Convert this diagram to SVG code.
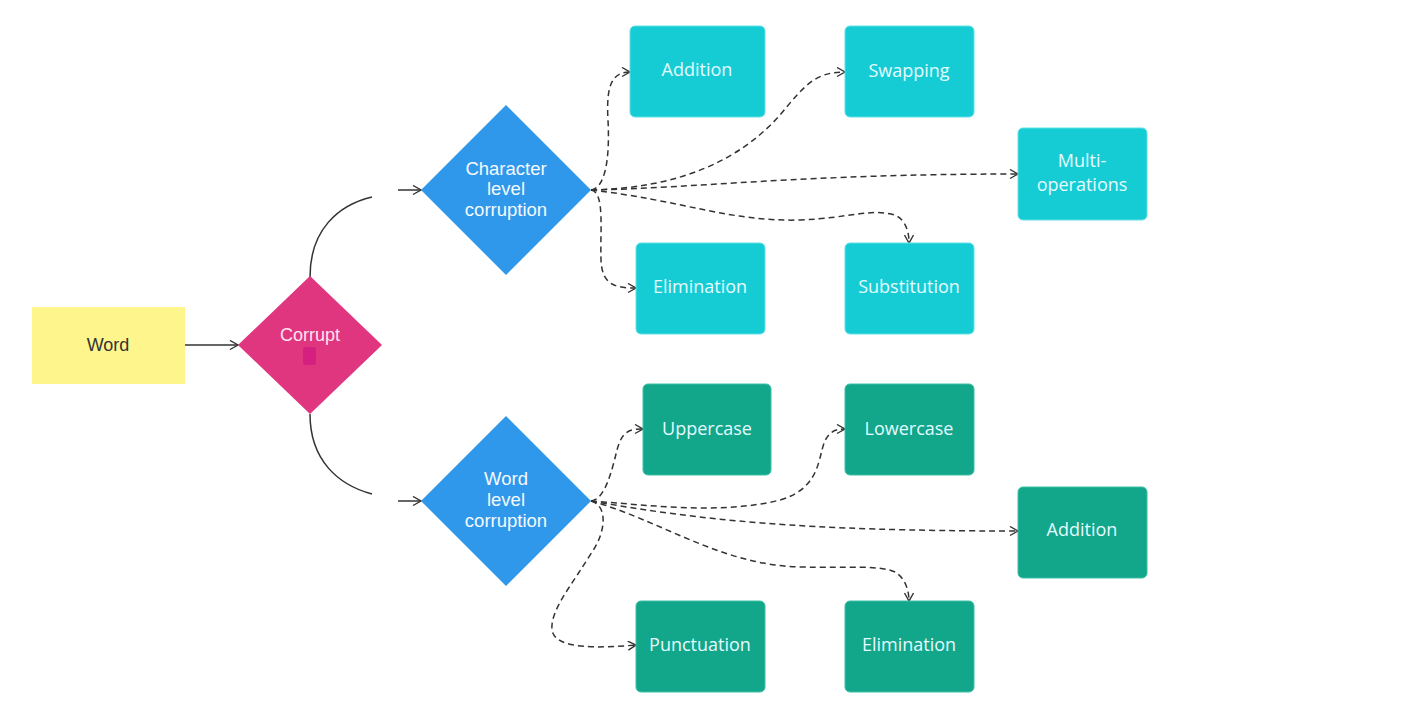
<svg xmlns="http://www.w3.org/2000/svg" width="1413" height="707" viewBox="0 0 1413 707">
<defs>
<marker id="arr" markerUnits="userSpaceOnUse" markerWidth="12" markerHeight="12" refX="9" refY="5" orient="auto">
<path d="M1,0.5 L9,5 L1,9.5" fill="none" stroke="#333" stroke-width="1.4"/>
</marker>
<style>
.solid{fill:none;stroke:#333;stroke-width:1.5}
.dash{fill:none;stroke:#333;stroke-width:1.5;stroke-dasharray:6 4}
.teal{fill:#16CCD4;stroke:#5FE0E6;stroke-width:1}
.green{fill:#12A68A;stroke:#3CC0A6;stroke-width:1}
.bt{font-family:"Open Sans","Noto Sans",sans-serif;font-size:18px;font-weight:500;fill:#E4FBFF;text-anchor:middle}
.dt{font-family:"Liberation Sans",Arial,sans-serif;font-size:18.5px;fill:#F5FAFF;text-anchor:middle}
</style>
</defs>
<rect width="1413" height="707" fill="#fff"/>
<g id="connectors">
<path class="solid" d="M185,345 L238,345" marker-end="url(#arr)"/>
<path class="solid" d="M310,277 C310,230 338,205 372,197"/>
<path class="solid" d="M398,190 L421,190" marker-end="url(#arr)"/>
<path class="solid" d="M310,414 C310,460 338,485 372,494"/>
<path class="solid" d="M398,501 L421,501" marker-end="url(#arr)"/>
<path class="dash" d="M591,190 C605,188 610,160 608,120 C606,85 612,72 630,72" marker-end="url(#arr)"/>
<path class="dash" d="M591,190 C605,192 600,230 601,260 C602,285 615,288 636,288" marker-end="url(#arr)"/>
<path class="dash" d="M591,190 C680,188 740,160 780,115 C805,85 815,72 845,72" marker-end="url(#arr)"/>
<path class="dash" d="M591,190 C700,188 800,174 1018,174" marker-end="url(#arr)"/>
<path class="dash" d="M591,190 C680,200 730,222 800,220 C850,218 870,208 895,215 C905,220 909,230 909,243" marker-end="url(#arr)"/>
<path class="dash" d="M591,501 C605,500 612,470 617,450 C622,432 628,429 643,429" marker-end="url(#arr)"/>
<path class="dash" d="M591,501 C650,505 720,515 780,500 C815,490 818,465 822,450 C826,434 832,429 845,429" marker-end="url(#arr)"/>
<path class="dash" d="M591,501 C700,520 800,531 1018,531" marker-end="url(#arr)"/>
<path class="dash" d="M591,501 C660,520 720,565 800,567 C850,568 880,565 895,572 C905,578 909,590 909,601" marker-end="url(#arr)"/>
<path class="dash" d="M591,501 C607,505 607,530 592,552 C572,585 550,610 552,630 C555,650 600,648 636,645" marker-end="url(#arr)"/>
</g>
<g id="word">
<rect x="32" y="307" width="153" height="77" fill="#FEF68D"/>
<text class="dt" x="108" y="351" style="fill:#333;font-size:18px">Word</text>
</g>
<g id="corrupt">
<polygon points="310,276 382,345 310,414 238,345" fill="#E0357F"/>
<text class="dt" x="310" y="341" style="fill:#FCE4F0;font-size:18px">Corrupt</text>
<rect x="303" y="347" width="13" height="18" rx="2" fill="#D6207F"/>
</g>
<g id="charlevel">
<polygon points="506,105 591,190 506,275 421,190" fill="#2F98EA"/>
<text class="dt" x="506" y="175">Character</text>
<text class="dt" x="506" y="195">level</text>
<text class="dt" x="506" y="216">corruption</text>
</g>
<g id="wordlevel">
<polygon points="506,416 591,501 506,586 421,501" fill="#2F98EA"/>
<text class="dt" x="506" y="485">Word</text>
<text class="dt" x="506" y="506">level</text>
<text class="dt" x="506" y="527">corruption</text>
</g>
<g id="c-addition"><rect class="teal" x="630" y="26" width="135" height="91" rx="5"/><text class="bt" x="697" y="76">Addition</text></g>
<g id="c-swapping"><rect class="teal" x="845" y="26" width="129" height="91" rx="5"/><text class="bt" x="909" y="77">Swapping</text></g>
<g id="c-multi"><rect class="teal" x="1018" y="128" width="129" height="92" rx="5"/><text class="bt" x="1082" y="167">Multi-</text><text class="bt" x="1082" y="191">operations</text></g>
<g id="c-elimination"><rect class="teal" x="636" y="243" width="129" height="91" rx="5"/><text class="bt" x="700" y="293">Elimination</text></g>
<g id="c-substitution"><rect class="teal" x="845" y="243" width="129" height="91" rx="5"/><text class="bt" x="909" y="293">Substitution</text></g>
<g id="w-uppercase"><rect class="green" x="643" y="384" width="128" height="91" rx="5"/><text class="bt" x="707" y="435">Uppercase</text></g>
<g id="w-lowercase"><rect class="green" x="845" y="384" width="129" height="91" rx="5"/><text class="bt" x="909" y="435">Lowercase</text></g>
<g id="w-addition"><rect class="green" x="1018" y="487" width="129" height="91" rx="5"/><text class="bt" x="1082" y="536">Addition</text></g>
<g id="w-punctuation"><rect class="green" x="636" y="601" width="129" height="91" rx="5"/><text class="bt" x="700" y="651">Punctuation</text></g>
<g id="w-elimination"><rect class="green" x="845" y="601" width="129" height="91" rx="5"/><text class="bt" x="909" y="651">Elimination</text></g>
</svg>
